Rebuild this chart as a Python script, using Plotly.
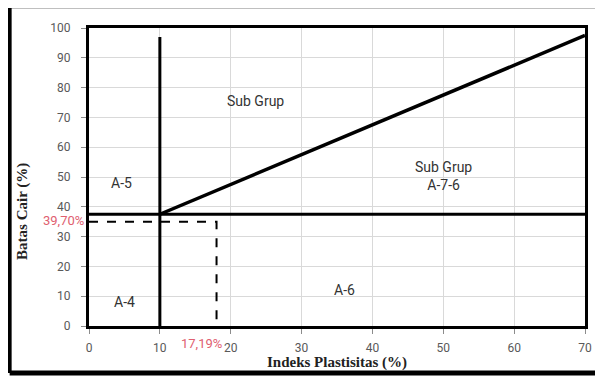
import plotly.graph_objects as go

# ---- data ----
x_ticks = [0, 10, 20, 30, 40, 50, 60, 70]
y_ticks = [0, 10, 20, 30, 40, 50, 60, 70, 80, 90, 100]

pi_limit = 10            # vertical boundary (Indeks Plastisitas)
pi_limit_ll = [0, 97]    # vertical boundary extent
ll_limit = 37.5          # horizontal boundary (Batas Cair)
ll_limit_pi = [0, 70]
diag_pi = [10, 70]       # A-7-5 / A-7-6 split
diag_ll = [37.5, 97.5]

sample_pi = 18           # plotted sample point
sample_ll = 35
sample_pi_label = "17,19%"
sample_ll_label = "39,70%"

zone_labels = ["Sub Grup", "A-5", "Sub Grup<br>A-7-6", "A-4", "A-6"]
zone_x = [23.5, 4.6, 50.0, 5.0, 36.0]
zone_y = [75.5, 48.0, 50.5, 8.0, 12.0]

# ---- figure ----
fig = go.Figure()

fig.add_trace(go.Scatter(x=[pi_limit, pi_limit], y=pi_limit_ll, mode="lines",
                         line=dict(color="black", width=3), hoverinfo="skip"))
fig.add_trace(go.Scatter(x=ll_limit_pi, y=[ll_limit, ll_limit], mode="lines",
                         line=dict(color="black", width=3), hoverinfo="skip"))
fig.add_trace(go.Scatter(x=diag_pi, y=diag_ll, mode="lines",
                         line=dict(color="black", width=3.5), hoverinfo="skip"))
fig.add_trace(go.Scatter(x=[0, sample_pi, sample_pi], y=[sample_ll, sample_ll, 0], mode="lines",
                         line=dict(color="black", width=2, dash="dash"), hoverinfo="skip"))

lab_font = dict(family="Liberation Sans Narrow, Roboto, sans-serif", size=14, color="#333333")
for t, xx, yy in zip(zone_labels, zone_x, zone_y):
    fig.add_annotation(x=xx, y=yy, text=t, showarrow=False, font=lab_font)

# sample value labels
red_font = dict(family="Liberation Sans Narrow, Roboto, sans-serif", size=13, color="#e06070")
fig.add_annotation(x=0, y=sample_ll, text=sample_ll_label, showarrow=False, xanchor="right",
                   xshift=-3, yshift=1, font=red_font)
fig.add_annotation(x=sample_pi, y=0, text=sample_pi_label, showarrow=False, xanchor="center",
                   yanchor="top", xshift=-15, yshift=-8, font=red_font)

# axis titles
title_font = dict(family="Liberation Serif, Times New Roman, serif", size=15, color="#222222")
fig.add_annotation(x=-0.133, y=0.383, xref="paper", yref="paper", text="<b>Batas Cair (%)</b>",
                   showarrow=False, textangle=-90, xanchor="center", yanchor="middle", font=title_font)
fig.add_annotation(x=0.5, y=-0.121, xref="paper", yref="paper", text="<b>Indeks Plastisitas (%)</b>",
                   showarrow=False, xanchor="center", yanchor="middle", font=title_font)

# outer frame (top, left, bottom)
frame = dict(color="black", width=5)
fig.add_shape(type="line", xref="paper", yref="paper", x0=-0.16, x1=1.05, y0=1.075, y1=1.075, line=frame)
fig.add_shape(type="line", xref="paper", yref="paper", x0=-0.16, x1=-0.16, y0=1.08, y1=-0.158,
              line=dict(color="black", width=4))
fig.add_shape(type="line", xref="paper", yref="paper", x0=-0.16, x1=1.05, y0=-0.158, y1=-0.158, line=frame)

tickfont = dict(family="Liberation Sans Narrow, Roboto, sans-serif", size=12, color="#595959")
fig.update_xaxes(range=[0, 70], tickvals=x_ticks, showgrid=True, gridcolor="#d9d9d9", gridwidth=1,
                 showline=True, linecolor="black", linewidth=3, mirror=True,
                 ticks="outside", ticklen=5, tickcolor="#8c8c8c", tickfont=tickfont, zeroline=False,
                 ticklabelstandoff=4)
fig.update_yaxes(range=[0, 100], tickvals=y_ticks, showgrid=True, gridcolor="#d9d9d9", gridwidth=1,
                 showline=True, linecolor="black", linewidth=3, mirror=True,
                 ticks="outside", ticklen=5, tickcolor="#8c8c8c", tickfont=tickfont, zeroline=False,
                 ticklabelstandoff=8)

# page body has an 8px margin, so the figure is sized to fit inside the window
fig.update_layout(width=595, height=370, showlegend=False,
                  margin=dict(l=81, r=11, t=20, b=52),
                  paper_bgcolor="white", plot_bgcolor="white")

fig.write_html("out.html")
